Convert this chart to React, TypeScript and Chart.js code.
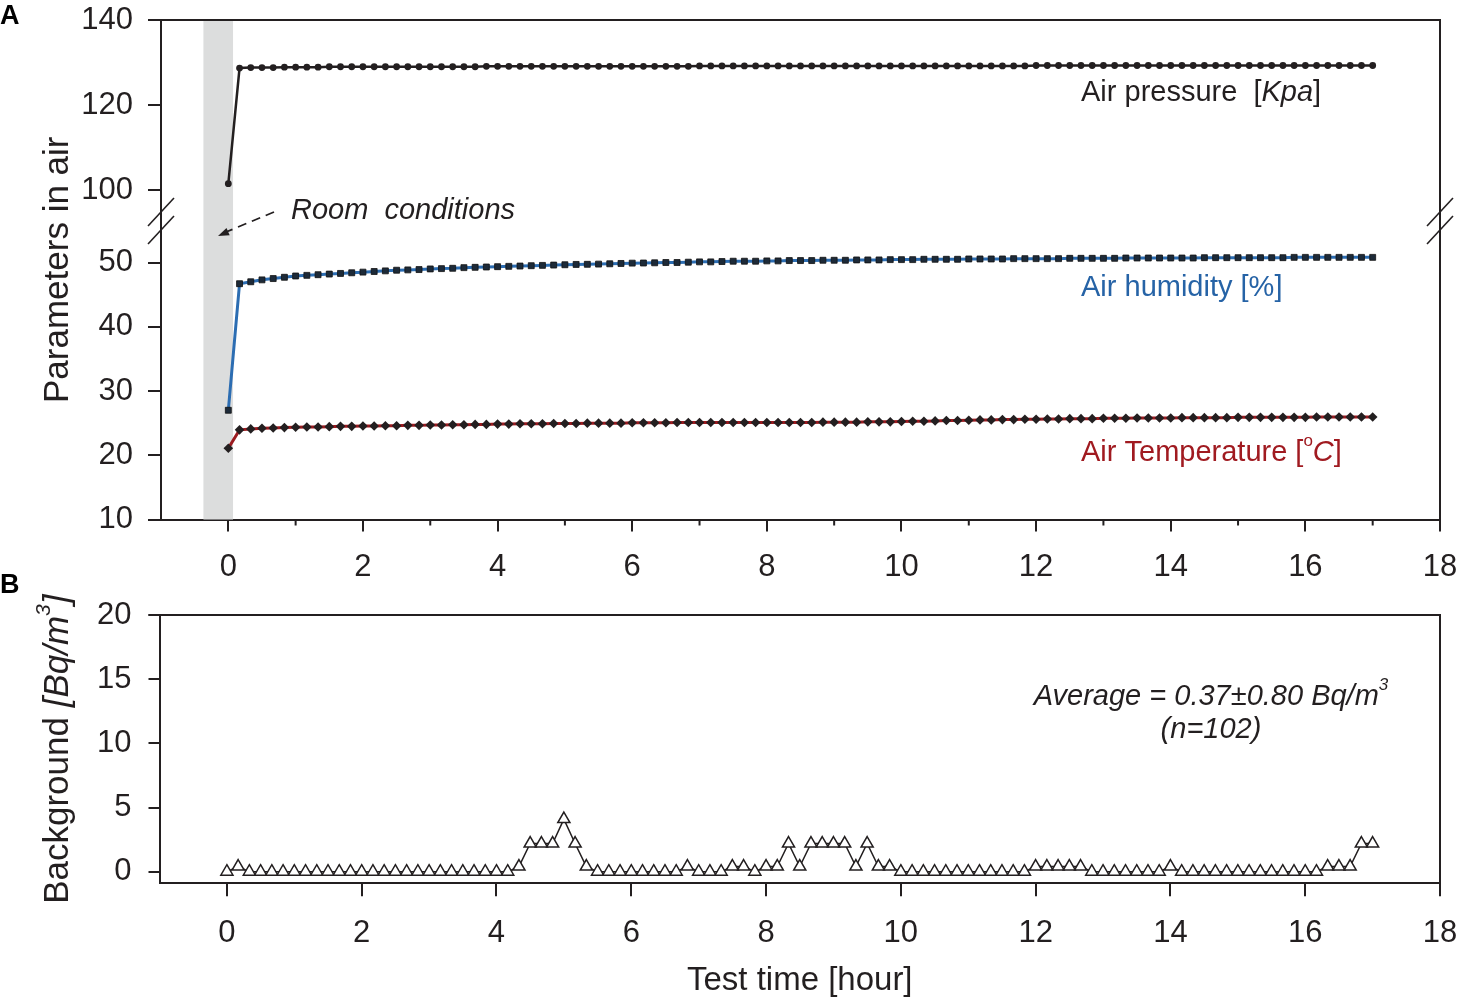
import React, { useEffect, useRef } from 'react';
import { Chart, registerables } from 'chart.js';

Chart.register(...registerables);

const FAMILY = "'Liberation Sans', Arial, Helvetica, sans-serif";
const INK = '#231f20';
const BLUE = '#2c6db2';
const BLUE_TEXT = '#2663a6';
const RED = '#9b1b20';
const RED_TEXT = '#a01a20';
const BAND = '#dcdddd';

// sampling interval of the record (minutes)
const SAMPLE_MINUTES = 10;

// Panel A series (one value every 10 min, t = 0 ... 17 h)
const PRESSURE_KPA = [
  101.5,
  128.7, 128.8, 128.8, 128.8, 128.9, 128.9, 128.9, 128.9, 129.0, 129.0,
  129.0, 129.0, 129.0, 129.0, 129.0, 129.0, 129.0, 129.0, 129.0, 129.0,
  129.0, 129.0, 129.1, 129.1, 129.1, 129.1, 129.1, 129.1, 129.1, 129.1,
  129.1, 129.1, 129.1, 129.1, 129.1, 129.1, 129.1, 129.1, 129.1, 129.1,
  129.1, 129.2, 129.2, 129.2, 129.2, 129.2, 129.2, 129.2, 129.2, 129.2,
  129.2, 129.2, 129.2, 129.2, 129.2, 129.2, 129.2, 129.2, 129.2, 129.2,
  129.2, 129.2, 129.2, 129.2, 129.2, 129.2, 129.2, 129.2, 129.2, 129.2,
  129.2, 129.3, 129.3, 129.3, 129.3, 129.3, 129.3, 129.3, 129.3, 129.3,
  129.3, 129.3, 129.3, 129.3, 129.3, 129.3, 129.3, 129.3, 129.3, 129.3,
  129.3, 129.3, 129.3, 129.3, 129.3, 129.3, 129.3, 129.3, 129.3, 129.3,
  129.3, 129.3,
];

const HUMIDITY_PCT = [
  27.0,
  46.7, 47.0, 47.3, 47.5, 47.7, 47.9, 48.0, 48.1, 48.2, 48.3,
  48.4, 48.5, 48.6, 48.7, 48.8, 48.85, 48.9, 49.0, 49.05, 49.1,
  49.2, 49.25, 49.3, 49.35, 49.4, 49.45, 49.5, 49.55, 49.6, 49.65,
  49.7, 49.72, 49.75, 49.8, 49.85, 49.9, 49.92, 49.95, 50.0, 50.0,
  50.05, 50.1, 50.1, 50.15, 50.2, 50.2, 50.2, 50.25, 50.25, 50.3,
  50.3, 50.3, 50.35, 50.35, 50.35, 50.4, 50.4, 50.4, 50.45, 50.45,
  50.45, 50.5, 50.5, 50.5, 50.5, 50.55, 50.55, 50.55, 50.55, 50.6,
  50.6, 50.6, 50.6, 50.6, 50.65, 50.65, 50.65, 50.65, 50.65, 50.7,
  50.7, 50.7, 50.7, 50.7, 50.7, 50.7, 50.75, 50.75, 50.75, 50.75,
  50.75, 50.75, 50.75, 50.75, 50.8, 50.8, 50.8, 50.8, 50.8, 50.8,
  50.8, 50.8,
];

const TEMPERATURE_C = [
  21.1,
  23.95, 24.1, 24.2, 24.25, 24.3, 24.35, 24.4, 24.4, 24.45, 24.5,
  24.5, 24.55, 24.55, 24.6, 24.6, 24.65, 24.65, 24.7, 24.7, 24.75,
  24.75, 24.8, 24.8, 24.85, 24.85, 24.9, 24.9, 24.9, 24.95, 24.95,
  24.95, 25.0, 25.0, 25.0, 25.0, 25.05, 25.05, 25.05, 25.05, 25.1,
  25.1, 25.1, 25.1, 25.1, 25.1, 25.1, 25.1, 25.1, 25.1, 25.1,
  25.1, 25.1, 25.15, 25.15, 25.15, 25.15, 25.2, 25.2, 25.2, 25.25,
  25.3, 25.3, 25.35, 25.4, 25.4, 25.45, 25.5, 25.5, 25.55, 25.55,
  25.6, 25.6, 25.65, 25.65, 25.7, 25.7, 25.7, 25.75, 25.75, 25.75,
  25.8, 25.8, 25.8, 25.8, 25.85, 25.85, 25.85, 25.85, 25.85, 25.9,
  25.9, 25.9, 25.9, 25.9, 25.9, 25.9, 25.95, 25.95, 25.95, 25.95,
  25.95, 25.95,
];

// Panel B background concentration (Bq/m3)
const BACKGROUND_BQ = [
  0, 0.4, 0, 0, 0, 0, 0, 0, 0, 0,
  0, 0, 0, 0, 0, 0, 0, 0, 0, 0,
  0, 0, 0, 0, 0, 0, 0.4, 2.2, 2.2, 2.2,
  4.1, 2.2, 0.4, 0, 0, 0, 0, 0, 0, 0,
  0, 0.4, 0, 0, 0, 0.4, 0.4, 0, 0.4, 0.4,
  2.2, 0.4, 2.2, 2.2, 2.2, 2.2, 0.4, 2.2, 0.4, 0.4,
  0, 0, 0, 0, 0, 0, 0, 0, 0, 0,
  0, 0, 0.4, 0.4, 0.4, 0.4, 0.4, 0, 0, 0,
  0, 0, 0, 0, 0.4, 0, 0, 0, 0, 0,
  0, 0, 0, 0, 0, 0, 0, 0, 0.4, 0.4,
  0.4, 2.2, 2.2,
];

const TIME_HOURS = PRESSURE_KPA.map((_, i) => (i * SAMPLE_MINUTES) / 60);
const ROOM_BAND_HOURS = [-0.37, 0.07];
const X_RANGE = [-1, 18];
const X_MAJOR_STEP = 2;
const X_MINOR_TICKS = [1, 3, 5, 7, 9, 11, 13, 15, 17];
const Y_LOW_RANGE = [10, 55.37];
const Y_HIGH_RANGE = [91.06, 140];
const Y_B_RANGE = [-0.9, 20];

type Seg = { t: string; it?: boolean; b?: boolean; sup?: boolean };

function drawRich(
  ctx: CanvasRenderingContext2D,
  segs: Seg[],
  x: number,
  y: number,
  size: number,
  color: string,
  align: 'left' | 'center' | 'right' = 'left'
) {
  const font = (s: Seg) =>
    `${s.it ? 'italic ' : ''}${s.b ? 'bold ' : ''}${s.sup ? Math.round(size * 0.6) : size}px ${FAMILY}`;
  ctx.save();
  ctx.fillStyle = color;
  ctx.textBaseline = 'middle';
  ctx.textAlign = 'left';
  const widths = segs.map((s) => {
    ctx.font = font(s);
    return ctx.measureText(s.t).width;
  });
  const total = widths.reduce((a, b) => a + b, 0);
  let cx = align === 'left' ? x : align === 'center' ? x - total / 2 : x - total;
  segs.forEach((s, i) => {
    ctx.font = font(s);
    ctx.fillText(s.t, cx, s.sup ? y - size * 0.4 : y);
    cx += widths[i];
  });
  ctx.restore();
}

function slash(ctx: CanvasRenderingContext2D, cx: number, cy: number) {
  ctx.beginPath();
  ctx.moveTo(cx - 13, cy + 14);
  ctx.lineTo(cx + 13, cy - 14);
  ctx.stroke();
}

const panelAPlugin = {
  id: 'panelA',
  beforeDatasetsDraw(chart: any) {
    const { ctx, chartArea: ca, scales } = chart;
    const l = scales.x.getPixelForValue(ROOM_BAND_HOURS[0]);
    const r = scales.x.getPixelForValue(ROOM_BAND_HOURS[1]);
    ctx.save();
    ctx.fillStyle = BAND;
    ctx.fillRect(l, ca.top, r - l, ca.bottom - ca.top);
    ctx.restore();
  },
  afterDraw(chart: any) {
    const { ctx, chartArea: ca, scales } = chart;
    ctx.save();
    ctx.strokeStyle = INK;
    ctx.lineWidth = 2;
    ctx.beginPath();
    ctx.moveTo(ca.left - 13, ca.top);
    ctx.lineTo(ca.right, ca.top);
    ctx.lineTo(ca.right, ca.bottom);
    ctx.stroke();
    ctx.beginPath();
    X_MINOR_TICKS.forEach((v) => {
      const px = scales.x.getPixelForValue(v);
      ctx.moveTo(px, ca.bottom);
      ctx.lineTo(px, ca.bottom + 6);
    });
    ctx.stroke();
    // axis break marks
    const brk = scales.yTop.bottom;
    ctx.lineWidth = 1.6;
    slash(ctx, ca.left, brk - 16);
    slash(ctx, ca.left, brk + 2);
    slash(ctx, ca.right, brk - 16);
    slash(ctx, ca.right, brk + 2);
    // dashed arrow
    ctx.lineWidth = 1.8;
    ctx.setLineDash([9, 6]);
    ctx.beginPath();
    ctx.moveTo(274, 212);
    ctx.lineTo(226, 232);
    ctx.stroke();
    ctx.setLineDash([]);
    const ang = Math.atan2(236 - 212, 218 - 274);
    ctx.fillStyle = INK;
    ctx.beginPath();
    ctx.moveTo(218, 236);
    ctx.lineTo(218 - 11 * Math.cos(ang) + 4 * Math.sin(ang), 236 - 11 * Math.sin(ang) - 4 * Math.cos(ang));
    ctx.lineTo(218 - 11 * Math.cos(ang) - 4 * Math.sin(ang), 236 - 11 * Math.sin(ang) + 4 * Math.cos(ang));
    ctx.closePath();
    ctx.fill();
    ctx.restore();

    drawRich(ctx, [{ t: 'Room  conditions', it: true }], 291, 211, 29, INK);
    drawRich(ctx, [{ t: 'Air pressure  [' }, { t: 'Kpa', it: true }, { t: ']' }], 1081, 93, 29, INK);
    drawRich(ctx, [{ t: 'Air humidity [%]' }], 1081, 288, 29, BLUE_TEXT);
    drawRich(
      ctx,
      [{ t: 'Air Temperature [' }, { t: 'o', sup: true }, { t: 'C', it: true }, { t: ']' }],
      1081,
      453,
      29,
      RED_TEXT
    );
    drawRich(ctx, [{ t: 'A', b: true }], 0, 17, 27, '#000');
    ctx.save();
    ctx.translate(58, (ca.top + ca.bottom) / 2);
    ctx.rotate(-Math.PI / 2);
    drawRich(ctx, [{ t: 'Parameters in air' }], 0, 0, 35, INK, 'center');
    ctx.restore();
  },
};

const panelBPlugin = {
  id: 'panelB',
  afterDraw(chart: any) {
    const { ctx, chartArea: ca } = chart;
    ctx.save();
    ctx.strokeStyle = INK;
    ctx.lineWidth = 2;
    ctx.beginPath();
    ctx.moveTo(ca.left - 11, ca.top);
    ctx.lineTo(ca.right, ca.top);
    ctx.lineTo(ca.right, ca.bottom);
    ctx.stroke();
    ctx.restore();
    drawRich(
      ctx,
      [{ t: 'Average = 0.37±0.80 Bq/m', it: true }, { t: '3', it: true, sup: true }],
      1211,
      137,
      29,
      INK,
      'center'
    );
    drawRich(ctx, [{ t: '(n=102)', it: true }], 1211, 170, 29, INK, 'center');
    drawRich(ctx, [{ t: 'B', b: true }], 0, 26, 27, '#000');
    drawRich(ctx, [{ t: 'Test time [hour]' }], (ca.left + ca.right) / 2, 421, 33, INK, 'center');
    ctx.save();
    ctx.translate(58, (ca.top + ca.bottom) / 2);
    ctx.rotate(-Math.PI / 2);
    drawRich(
      ctx,
      [{ t: 'Background ' }, { t: '[Bq/m', it: true }, { t: '3', it: true, sup: true }, { t: ']', it: true }],
      0,
      0,
      35,
      INK,
      'center'
    );
    ctx.restore();
  },
};

const tickFont = { family: FAMILY, size: 31 };
const axisGrid = (len: number) => ({
  drawOnChartArea: false,
  drawTicks: true,
  tickLength: len,
  color: INK,
  tickColor: INK,
  lineWidth: 2,
  tickWidth: 2,
});
const axisBorder = { color: INK, width: 2 };

const fixSize = (dim: 'width' | 'height', value: number) => (s: any) => {
  s[dim] = value;
  s.paddingTop = 0;
  s.paddingBottom = 0;
  s.paddingLeft = 0;
  s.paddingRight = 0;
};

export default function App() {
  const refA = useRef<HTMLCanvasElement>(null);
  const refB = useRef<HTMLCanvasElement>(null);

  useEffect(() => {
    const pts = (arr: number[]) => arr.map((v, i) => ({ x: TIME_HOURS[i], y: v }));
    const chartA = new Chart(refA.current as HTMLCanvasElement, {
      type: 'line',
      data: {
        datasets: [
          {
            label: 'Air pressure [Kpa]',
            data: pts(PRESSURE_KPA),
            yAxisID: 'yTop',
            borderColor: INK,
            borderWidth: 2.5,
            pointStyle: 'circle',
            pointRadius: 3.4,
            pointBackgroundColor: INK,
            pointBorderColor: INK,
            pointBorderWidth: 0,
          },
          {
            label: 'Air humidity [%]',
            data: pts(HUMIDITY_PCT),
            yAxisID: 'yLow',
            borderColor: BLUE,
            borderWidth: 3,
            pointStyle: 'rect',
            pointRadius: 4.2,
            pointBackgroundColor: '#1d2a38',
            pointBorderColor: '#111',
            pointBorderWidth: 0.8,
          },
          {
            label: 'Air Temperature [°C]',
            data: pts(TEMPERATURE_C),
            yAxisID: 'yLow',
            borderColor: RED,
            borderWidth: 3,
            pointStyle: 'rectRot',
            pointRadius: 4.8,
            pointBackgroundColor: INK,
            pointBorderColor: INK,
            pointBorderWidth: 0,
          },
        ],
      },
      options: {
        animation: false,
        responsive: true,
        maintainAspectRatio: false,
        layout: { padding: { top: 20, right: 17, left: 0, bottom: 0 } },
        plugins: { legend: { display: false }, tooltip: { enabled: false } },
        scales: {
          x: {
            type: 'linear',
            min: X_RANGE[0],
            max: X_RANGE[1],
            ticks: { stepSize: X_MAJOR_STEP, includeBounds: false, padding: 17, font: tickFont, color: INK },
            grid: axisGrid(12),
            border: axisBorder,
            afterFit: fixSize('height', 80.5),
          },
          yLow: {
            type: 'linear',
            position: 'left',
            stack: 'A',
            stackWeight: 291.5,
            min: Y_LOW_RANGE[0],
            max: Y_LOW_RANGE[1],
            ticks: { stepSize: 10, includeBounds: false, padding: 15, font: tickFont, color: INK },
            grid: axisGrid(13),
            border: axisBorder,
            afterFit: fixSize('width', 161),
          },
          yTop: {
            type: 'linear',
            position: 'left',
            stack: 'A',
            stackWeight: 208,
            min: Y_HIGH_RANGE[0],
            max: Y_HIGH_RANGE[1],
            ticks: { stepSize: 20, includeBounds: false, padding: 15, font: tickFont, color: INK },
            grid: axisGrid(13),
            border: axisBorder,
            afterFit: fixSize('width', 161),
          },
        },
      } as any,
      plugins: [panelAPlugin],
    });

    const chartB = new Chart(refB.current as HTMLCanvasElement, {
      type: 'line',
      data: {
        datasets: [
          {
            label: 'Background',
            data: pts(BACKGROUND_BQ),
            borderColor: INK,
            borderWidth: 1.5,
            pointStyle: 'triangle',
            pointRadius: 7,
            pointBackgroundColor: '#ffffff',
            pointBorderColor: INK,
            pointBorderWidth: 1.5,
          },
        ],
      },
      options: {
        animation: false,
        responsive: true,
        maintainAspectRatio: false,
        layout: { padding: { top: 55, right: 17, left: 0, bottom: 0 } },
        plugins: { legend: { display: false }, tooltip: { enabled: false } },
        scales: {
          x: {
            type: 'linear',
            min: X_RANGE[0],
            max: X_RANGE[1],
            ticks: { stepSize: X_MAJOR_STEP, includeBounds: false, padding: 19, font: tickFont, color: INK },
            grid: axisGrid(13),
            border: axisBorder,
            afterFit: fixSize('height', 115.7),
          },
          y: {
            type: 'linear',
            min: Y_B_RANGE[0],
            max: Y_B_RANGE[1],
            ticks: { stepSize: 5, includeBounds: false, padding: 17, font: tickFont, color: INK },
            grid: axisGrid(11),
            border: axisBorder,
            afterFit: fixSize('width', 159.5),
          },
        },
      } as any,
      plugins: [panelBPlugin],
    });

    return () => {
      chartA.destroy();
      chartB.destroy();
    };
  }, []);

  return (
    <div style={{ position: 'fixed', left: 0, top: 0, width: 1457, height: 999, background: '#ffffff' }}>
      <div style={{ position: 'absolute', left: 0, top: 0, width: 1457, height: 600 }}>
        <canvas ref={refA} />
      </div>
      <div style={{ position: 'absolute', left: 0, top: 560, width: 1457, height: 439 }}>
        <canvas ref={refB} />
      </div>
    </div>
  );
}
